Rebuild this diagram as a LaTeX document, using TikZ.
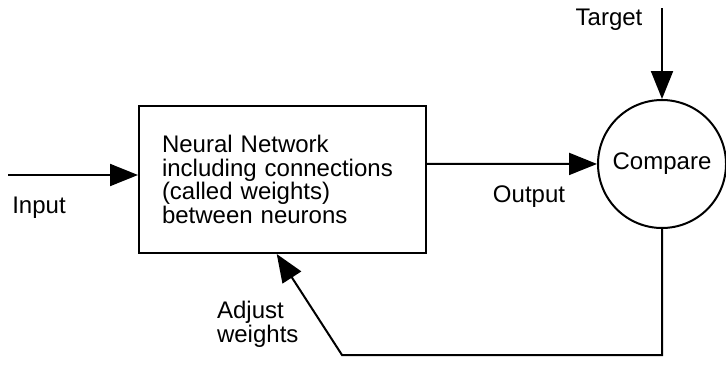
\documentclass[tikz,border=0pt]{standalone}
\usepackage{fontspec}
\setmainfont{Liberation Sans}
\usepackage{tikz}
\usetikzlibrary{arrows.meta,positioning,calc}

\begin{document}
\begin{tikzpicture}[x=0.5pt,y=-0.5pt,
  lb/.style={font=\fontsize{12}{11.8}\selectfont},
  nnbox/.style={draw,line width=1pt,minimum width=143.5pt,minimum height=73.5pt,
    inner xsep=11.5pt,text width=120.5pt,align=left,lb},
  cmpc/.style={draw,circle,line width=1pt,minimum size=64pt,inner sep=0pt,lb},
  arr/.style={line width=1pt,-{Triangle[length=14pt,width=11pt]}}
]
\useasboundingbox (0,0) rectangle (726,364);
% ---- main blocks ----
\node[nnbox] (nn)  at (282.5,179.5) {Neural Network\\including connections\\(called weights)\\between neurons};
\node[cmpc]  (cmp) at (662,164) {Compare};
% ---- free ends ----
\coordinate (in) at (8,175);
\coordinate (tg) at (662,8);
\coordinate (fb) at (342,355);
\coordinate (out) at ($(nn.north east)!0.395!(nn.south east)$);
% ---- connectors ----
\draw[arr] (in) -- (in -| nn.west);
\draw[arr] (out) -- (cmp);
\draw[arr] (tg) -- (cmp);
\draw[arr] (cmp.south) -- (cmp.south |- fb) -- (fb)
  -- ($(nn.south west)!0.48!(nn.south east)$);
% ---- labels ----
\node[lb] (inlab)  at (39,208)  {Input};
\node[lb] (outlab) at (529,197) {Output};
\node[lb] (tglab)  at (609,20)  {Target};
\node[lb,anchor=west,align=left] (adjlab) at (210,324) {Adjust\\weights};
\end{tikzpicture}
\end{document}
